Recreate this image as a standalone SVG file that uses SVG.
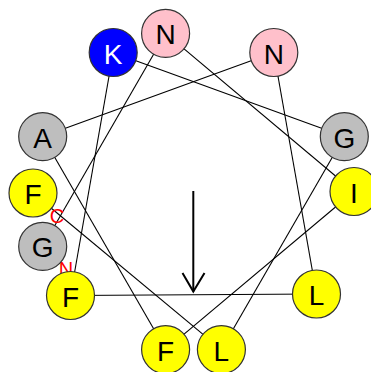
<svg xmlns="http://www.w3.org/2000/svg" width="371" height="372" viewBox="0 0 371 372">
<style>
.c{stroke:#333;stroke-width:1.2}
.t{font-family:"Liberation Sans",Arial,sans-serif;font-size:28px;text-anchor:middle;fill:#000}
.w{fill:#fff}
.lbl{font-family:"Liberation Sans",Arial,sans-serif;font-size:20px;fill:#ff0000;text-anchor:middle}
.pink{fill:#ffc0cb}.blue{fill:#0000ff}.gray{fill:#bebebe}.yel{fill:#ffff00}
</style>
<rect width="371" height="372" fill="#fff"/>
<g id="connectors" stroke="#000" stroke-width="1.1" fill="none">
<line x1="42.7" y1="246.4" x2="165.6" y2="33.4"/>
<line x1="165.6" y1="33.4" x2="354" y2="191.5"/>
<line x1="354" y1="191.5" x2="165.6" y2="349.6"/>
<line x1="165.6" y1="349.6" x2="42.7" y2="136.6"/>
<line x1="42.7" y1="136.6" x2="273.8" y2="52.5"/>
<line x1="273.8" y1="52.5" x2="316.5" y2="294"/>
<line x1="316.5" y1="294" x2="70.5" y2="295.5"/>
<line x1="70.5" y1="295.5" x2="113.2" y2="52.5"/>
<line x1="113.2" y1="52.5" x2="344.3" y2="136.6"/>
<line x1="344.3" y1="136.6" x2="221.4" y2="349.6"/>
<line x1="221.4" y1="349.6" x2="33" y2="193"/>
</g>
<g id="moment" stroke="#000" stroke-width="2" fill="none">
<line x1="193.3" y1="191" x2="193.3" y2="291.5"/>
<polyline points="182.5,273 193.3,291.5 204.5,273"/>
</g>
<text class="lbl" x="57" y="223">C</text>
<text class="lbl" x="66" y="276">N</text>
<g id="r1"><circle class="c gray" cx="42.7" cy="246.4" r="24"/><text class="t" x="42.7" y="257.4">G</text></g>
<g id="r2"><circle class="c pink" cx="165.6" cy="33.4" r="24"/><text class="t" x="165.6" y="44.4">N</text></g>
<g id="r3"><circle class="c yel" cx="354" cy="191.5" r="24"/><text class="t" x="354" y="202.5">I</text></g>
<g id="r4"><circle class="c yel" cx="165.6" cy="349.6" r="24"/><text class="t" x="165.6" y="360.6">F</text></g>
<g id="r5"><circle class="c gray" cx="42.7" cy="136.6" r="24"/><text class="t" x="42.7" y="147.6">A</text></g>
<g id="r6"><circle class="c pink" cx="273.8" cy="52.5" r="24"/><text class="t" x="273.8" y="63.5">N</text></g>
<g id="r7"><circle class="c yel" cx="316.5" cy="294" r="24"/><text class="t" x="316.5" y="305">L</text></g>
<g id="r8"><circle class="c yel" cx="70.5" cy="295.5" r="24"/><text class="t" x="70.5" y="306.5">F</text></g>
<g id="r9"><circle class="c blue" cx="113.2" cy="52.5" r="24"/><text class="t w" x="113.2" y="63.5">K</text></g>
<g id="r10"><circle class="c gray" cx="344.3" cy="136.6" r="24"/><text class="t" x="344.3" y="147.6">G</text></g>
<g id="r11"><circle class="c yel" cx="221.4" cy="349.6" r="24"/><text class="t" x="221.4" y="360.6">L</text></g>
<g id="r12"><circle class="c yel" cx="33" cy="193" r="24"/><text class="t" x="33" y="204">F</text></g>
</svg>
